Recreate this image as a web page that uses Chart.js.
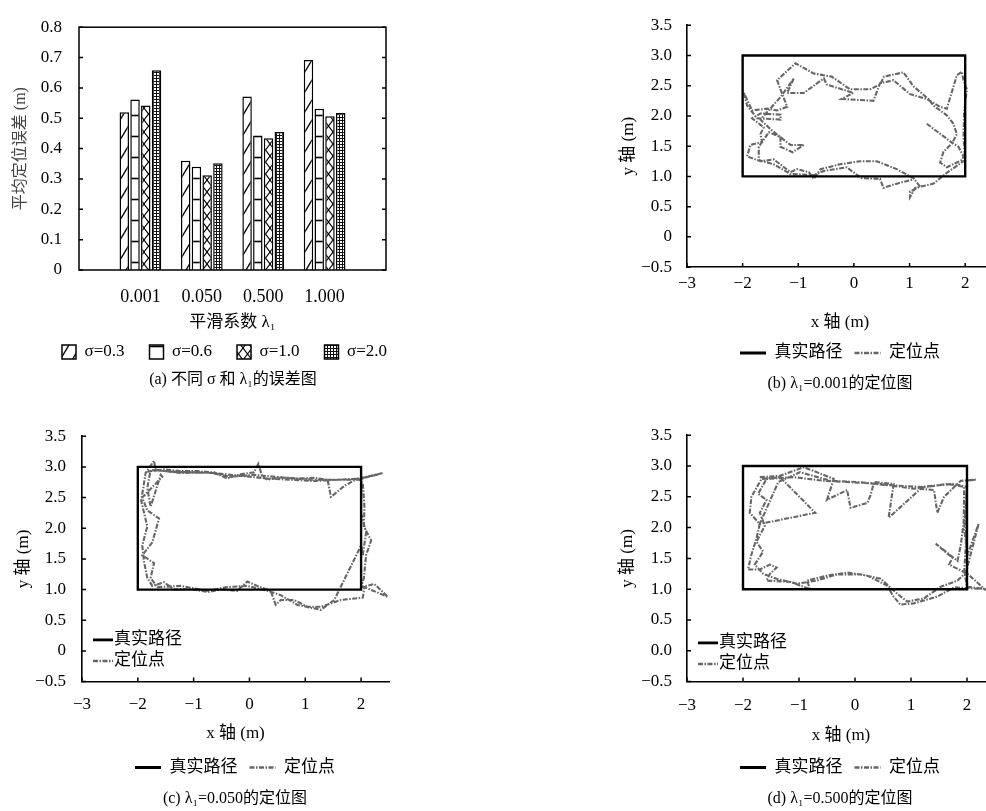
<!DOCTYPE html>
<html>
<head>
<meta charset="utf-8">
<script src="https://cdn.jsdelivr.net/npm/chart.js@4.4.0/dist/chart.umd.min.js"></script>
<style>
  html, body { margin: 0; padding: 0; background: #fff; width: 986px; height: 811px; overflow: hidden; }
  canvas { position: absolute; }
</style>
</head>
<body>
<canvas id="chartA" width="466" height="400" style="left:0;top:0"></canvas>
<canvas id="chartB" width="460" height="400" style="left:610px;top:0"></canvas>
<canvas id="chartC" width="470" height="401" style="left:0;top:410px"></canvas>
<canvas id="chartD" width="460" height="401" style="left:610px;top:410px"></canvas>
<script>
// (a) 误差柱状图
const categories = ['0.001', '0.050', '0.500', '1.000'];
const sigma03 = [0.520, 0.360, 0.572, 0.692];
const sigma06 = [0.562, 0.340, 0.443, 0.531];
const sigma10 = [0.542, 0.312, 0.434, 0.507];
const sigma20 = [0.658, 0.352, 0.455, 0.517];
const yTickValsA = [0, 0.1, 0.2, 0.3, 0.4, 0.5, 0.6, 0.7, 0.8];
const yTickLabelsA = ['0', '0.1', '0.2', '0.3', '0.4', '0.5', '0.6', '0.7', '0.8'];

// (b)(c)(d) 定位图
const trueX = [-2, 2, 2, -2, -2];
const trueY = [1, 1, 3, 3, 1];
const xTickVals = [-3, -2, -1, 0, 1, 2];
const xTickLabels = ['−3', '−2', '−1', '0', '1', '2'];
const yTickVals = [-0.5, 0, 0.5, 1, 1.5, 2, 2.5, 3, 3.5];
const yTickLabels = ['−0.5', '0', '0.5', '1.0', '1.5', '2.0', '2.5', '3.0', '3.5'];
const yTickLabelsD = ['−0.5', '0.0', '0.5', '1.0', '1.5', '2.0', '2.5', '3.0', '3.5'];

// λ1 = 0.001
const bX = [1.31,1.73,1.88,1.97,1.94,1.67,1.55,1.61,1.76,1.85,1.79,1.67,1.55,1.43,1.34,1.07,0.89,0.54,0.47,0.29,
  -0.07,-0.40,-0.72,-1.05,-1.38,-1.32,-1.20,-1.38,-1.56,-1.83,-1.98,-1.92,-1.74,-1.32,-1.32,-1.68,-1.83,-1.62,-1.68,-1.65,
  -1.86,-1.92,-1.68,-1.44,-1.14,-1.02,-0.81,-0.72,-0.60,-0.25,0.11,0.41,0.77,1.07,1.19,1.01,1.01,1.10,1.43,1.67,
  2.00,1.97,1.98,2.03,1.97,1.94,1.85,1.67,1.55,1.31,1.01,0.71,0.47,0.35,-0.22,-0.01,-0.49,-0.54,-0.90,-1.20,
  -1.08,-1.32,-1.68,-1.50,-1.14,-0.90,-1.10,-1.32,-1.32,-1.53,-1.71,-1.71,-1.44,-1.14,-0.72,-0.54,-0.13,0.14,0.47,0.53,
  0.77,1.07];
const bY = [1.87,1.58,1.49,1.33,1.27,1.15,1.23,1.41,1.54,1.70,1.87,2.01,2.09,2.17,2.28,2.49,2.72,2.65,2.52,2.44,
  2.44,2.65,2.70,2.87,2.59,2.44,2.15,2.09,2.12,2.09,2.39,2.17,1.96,1.94,2.02,2.04,1.96,1.81,1.70,1.57,
  1.52,1.33,1.25,1.28,1.07,1.12,1.07,0.96,1.12,1.20,1.25,1.25,1.12,0.97,0.83,0.75,0.66,0.81,0.88,1.06,
  1.27,1.65,2.04,2.44,2.59,2.73,2.67,2.12,2.15,2.28,2.36,2.59,2.54,2.25,2.28,2.38,2.52,2.62,2.38,2.38,
  2.62,2.31,1.94,1.78,1.52,1.52,1.40,1.49,1.65,1.73,1.49,1.27,1.20,1.04,1.02,1.09,1.15,0.97,0.96,0.81,
  0.88,0.95];

// λ1 = 0.050
const cX = [-1.83,-1.53,-1.23,-0.93,-0.63,-0.40,-0.16,0.08,0.16,0.23,0.32,0.56,0.86,1.16,1.40,1.46,1.70,1.94,2.03,2.06,
  2.05,2.18,2.09,2.05,2.00,2.24,2.48,2.06,2.03,1.64,1.28,1.04,0.80,0.56,0.47,0.38,0.14,-0.04,-0.22,-0.51,
  -0.75,-1.05,-1.35,-1.53,-1.74,-1.83,-1.89,-1.92,-1.83,-1.94,-1.86,-1.71,-1.68,-1.23,-0.75,-0.34,0.08,0.68,1.16,1.94,
  2.39,2.00,2.00,2.09,2.03,2.00,1.52,1.28,0.86,0.56,0.32,-0.04,-0.40,-0.75,-1.23,-1.65,-1.77,-1.71,-1.92,-1.74,
  -1.62,-1.83,-1.92,-1.56,-1.59,-1.77,-1.83,-1.77,-1.35,-0.63,0.32,1.16,1.97,2.33];
const cY = [2.92,2.96,2.93,2.93,2.91,2.81,2.88,2.91,3.05,2.84,2.79,2.83,2.81,2.82,2.79,2.51,2.69,2.81,2.74,2.35,
  2.03,1.80,1.56,1.19,1.04,1.09,0.88,1.04,0.87,0.83,0.72,0.72,0.83,0.83,0.75,0.98,1.06,1.13,0.98,1.00,
  0.96,1.01,1.00,1.12,1.06,1.19,1.46,1.72,2.03,2.45,2.90,3.10,2.95,2.90,2.91,2.84,2.87,2.82,2.79,2.79,
  2.90,2.82,2.24,1.93,1.56,1.72,0.83,0.67,0.75,0.91,0.98,1.06,1.04,0.98,1.06,1.04,1.19,1.43,1.56,1.77,
  2.16,2.29,2.50,2.84,2.87,2.35,2.66,2.95,2.92,2.90,2.81,2.77,2.81,2.88];

// λ1 = 0.500
const dX = [-1.70,-1.34,-0.92,-0.74,-0.38,-0.50,-0.14,-0.08,0.22,0.28,0.34,0.69,0.60,0.99,1.17,1.41,1.47,1.59,1.89,2.16,
  2.00,1.98,1.98,1.95,2.00,2.36,1.77,1.47,1.05,0.81,0.69,0.57,0.22,-0.14,-0.50,-0.86,-0.80,-1.16,-1.58,-1.52,
  -1.40,-1.52,-1.70,-1.91,-1.85,-1.76,-1.70,-1.88,-1.85,-1.67,-1.34,-0.71,-1.70,-1.55,-1.37,-0.98,-0.44,0.04,0.57,1.17,
  1.77,2.00,1.95,2.01,2.21,1.98,1.83,1.53,1.23,0.93,0.75,0.46,0.10,-0.32,-0.68,-1.04,-1.40,-1.64,-1.79,-1.64,
  -1.76,-1.61,-1.70,-1.58,-1.73,-1.58,-1.10,-0.56,-0.14,0.46,1.05,1.65,1.95,1.94,1.89,1.83,1.44,1.74,1.68,2.01,
  2.34];
const dY = [2.82,2.84,2.98,2.92,2.79,2.45,2.61,2.32,2.40,2.53,2.74,2.71,2.16,2.48,2.63,2.61,2.24,2.50,2.76,2.78,
  2.76,2.24,1.72,1.30,1.04,1.00,1.03,0.88,0.77,0.75,0.88,1.06,1.22,1.27,1.22,1.14,1.00,1.12,1.14,1.25,
  1.35,1.40,1.32,1.32,1.56,1.82,2.06,2.24,2.50,2.79,2.82,2.24,2.06,2.37,2.74,2.90,2.76,2.74,2.69,2.66,
  2.71,2.66,1.98,1.56,2.07,1.27,1.14,1.04,0.85,0.80,0.93,1.17,1.24,1.24,1.14,1.09,1.17,1.25,1.40,1.61,
  1.77,2.03,2.24,2.45,2.55,2.79,2.82,2.76,2.74,2.71,2.63,2.71,2.66,2.08,1.72,1.46,1.74,1.51,1.40,1.25,
  0.98];

Chart.defaults.font.family = "'Liberation Serif', 'Noto Sans CJK SC', serif";
Chart.defaults.color = '#000';

// 填充图案
function pattern(w, h, draw) {
  const c = document.createElement('canvas');
  c.width = w; c.height = h;
  const g = c.getContext('2d');
  g.fillStyle = '#fff';
  g.fillRect(0, 0, w, h);
  g.strokeStyle = '#000';
  draw(g, w, h);
  return g.createPattern(c, 'repeat');
}
const fillDiag = pattern(12, 20, (g, w, h) => {
  g.lineWidth = 1.4;
  g.beginPath();
  [-w, 0, w].forEach(o => { g.moveTo(o, h); g.lineTo(o + w, 0); });
  g.stroke();
});
const fillHoriz = pattern(4, 21, (g, w) => {
  g.lineWidth = 1.6;
  g.beginPath(); g.moveTo(0, 10.5); g.lineTo(w, 10.5); g.stroke();
});
const fillCross = pattern(9, 12, (g, w, h) => {
  g.lineWidth = 1.1;
  g.beginPath();
  g.moveTo(0, 0); g.lineTo(w, h);
  g.moveTo(0, h); g.lineTo(w, 0);
  g.stroke();
});
const fillGrid = pattern(3, 3, (g, w, h) => {
  g.lineWidth = 1;
  g.strokeStyle = '#111';
  g.beginPath();
  g.moveTo(0.5, 0); g.lineTo(0.5, h);
  g.moveTo(0, 0.5); g.lineTo(w, 0.5);
  g.stroke();
});

// 边框和朝内的刻度
const frameAxes = {
  id: 'frameAxes',
  afterDatasetsDraw(chart, args, opts) {
    const { ctx, chartArea: a, scales } = chart;
    ctx.save();
    ctx.strokeStyle = '#000';
    ctx.lineWidth = 1.5;
    if (opts.box) ctx.strokeRect(a.left, a.top, a.right - a.left, a.bottom - a.top);
    ctx.beginPath();
    scales.y.ticks.forEach(t => {
      const py = scales.y.getPixelForValue(t.value);
      ctx.moveTo(a.left, py); ctx.lineTo(a.left + 4, py);
      if (opts.box) { ctx.moveTo(a.right, py); ctx.lineTo(a.right - 4, py); }
    });
    if (opts.xTicks) {
      scales.x.ticks.forEach(t => {
        const px = scales.x.getPixelForValue(t.value);
        ctx.moveTo(px, a.bottom); ctx.lineTo(px, a.bottom - 4);
      });
    }
    ctx.stroke();
    ctx.restore();
  }
};

// 图内左下角的图例
const innerLegend = {
  id: 'innerLegend',
  afterDraw(chart, args, opts) {
    if (!opts.show) return;
    const { ctx, chartArea: a } = chart;
    ctx.save();
    ctx.font = "17px 'Liberation Serif', 'Noto Sans CJK SC'";
    ctx.textBaseline = 'middle';
    chart.data.datasets.forEach((ds, i) => {
      const x = a.left + opts.left;
      const y = a.bottom - opts.bottom + i * 21;
      ctx.strokeStyle = ds.borderColor;
      ctx.lineWidth = ds.borderWidth + 0.4;
      ctx.setLineDash(ds.borderDash || []);
      ctx.beginPath(); ctx.moveTo(x, y); ctx.lineTo(x + 20, y); ctx.stroke();
      ctx.setLineDash([]);
      ctx.fillStyle = '#000';
      ctx.fillText(ds.label, x + 21, y);
    });
    ctx.restore();
  }
};

const pad = arr => [null, ...arr, null];
const pts = (xs, ys) => xs.map((x, i) => ({ x, y: ys[i] }));

new Chart(document.getElementById('chartA'), {
  type: 'bar',
  data: {
    labels: ['', ...categories, ''],
    datasets: [
      { label: 'σ=0.3', data: pad(sigma03), backgroundColor: fillDiag },
      { label: 'σ=0.6', data: pad(sigma06), backgroundColor: fillHoriz },
      { label: 'σ=1.0', data: pad(sigma10), backgroundColor: fillCross },
      { label: 'σ=2.0', data: pad(sigma20), backgroundColor: fillGrid }
    ]
  },
  options: {
    responsive: false,
    animation: false,
    datasets: { bar: { categoryPercentage: 0.70, barPercentage: 0.88, borderColor: '#000', borderWidth: 1.5 } },
    layout: { padding: { top: 15.7, bottom: 10.3, left: 0, right: 0 } },
    scales: {
      x: {
        offset: false,
        grid: { display: false, drawTicks: false },
        border: { display: false },
        ticks: { padding: 16, font: { size: 18 }, maxRotation: 0, autoSkip: false },
        title: { display: true, text: '平滑系数 λ₁', font: { size: 17 }, padding: { top: 0, bottom: 2.3 } },
        afterFit: s => { s.height = 65.5; }
      },
      y: {
        min: 0, max: 0.8,
        grid: { display: false, drawTicks: false },
        border: { display: false },
        afterBuildTicks: s => { s.ticks = yTickValsA.map(v => ({ value: v })); },
        ticks: { padding: 17, font: { size: 17 }, callback: (v, i) => yTickLabelsA[i] },
        title: { display: true, text: '平均定位误差 (m)', color: '#444', font: { size: 16 }, padding: { top: 11, bottom: 0 } },
        afterFit: s => { s.width = 79; }
      },
      yR: {
        position: 'right',
        grid: { display: false, drawTicks: false },
        border: { display: false },
        ticks: { display: false },
        afterFit: s => { s.width = 80; }
      }
    },
    plugins: {
      legend: {
        position: 'bottom',
        labels: {
          boxWidth: 14, boxHeight: 14, padding: 8, font: { size: 17 }, color: '#000',
          generateLabels: chart => Chart.defaults.plugins.legend.labels.generateLabels(chart)
            .map(l => ({ ...l, text: l.text + '    ' }))
        }
      },
      title: {
        display: true, position: 'bottom', text: '(a) 不同 σ 和 λ₁的误差图',
        color: '#000', font: { size: 16, weight: 'normal' }, padding: { top: 0, bottom: 0 }
      },
      tooltip: { enabled: false },
      frameAxes: { box: true, xTicks: false }
    }
  },
  plugins: [frameAxes]
});

function pathChart(id, xs, ys, yLabels, caption, L) {
  return new Chart(document.getElementById(id), {
    type: 'scatter',
    data: {
      datasets: [
        { label: '真实路径', data: pts(trueX, trueY), showLine: true, borderColor: '#000',
          borderWidth: 2.4, borderCapStyle: 'square', pointRadius: 0 },
        { label: '定位点', data: pts(xs, ys), showLine: true, borderColor: '#666',
          borderWidth: 2.1, borderDash: [5, 1.5, 1.5, 1.5], pointRadius: 0 }
      ]
    },
    options: {
      responsive: false,
      animation: false,
      layout: { padding: { top: L.top, bottom: L.bottom, left: 0, right: 0 } },
      scales: {
        x: {
          type: 'linear', min: -3, max: 2.5,
          grid: { display: false, drawTicks: false },
          border: { color: '#000', width: 1.6 },
          afterBuildTicks: s => { s.ticks = xTickVals.map(v => ({ value: v })); },
          ticks: { padding: L.xPad, font: { size: 17 }, maxRotation: 0, callback: (v, i) => xTickLabels[i] },
          title: { display: true, text: 'x 轴 (m)', font: { size: 17 }, padding: { top: 0, bottom: L.xTitle } },
          afterFit: s => { s.height = 65.4; }
        },
        y: {
          type: 'linear', min: -0.5, max: 3.5,
          grid: { display: false, drawTicks: false },
          border: { color: '#000', width: 1.6 },
          afterBuildTicks: s => { s.ticks = yTickVals.map(v => ({ value: v })); },
          ticks: { padding: L.yPad, font: { size: 17 }, callback: (v, i) => yLabels[i] },
          title: { display: true, text: 'y 轴 (m)', font: { size: 17 }, padding: { top: L.yTitle, bottom: 0 } },
          afterFit: s => { s.width = L.yW; }
        },
        yR: {
          type: 'linear', position: 'right',
          grid: { display: false, drawTicks: false },
          border: { display: false },
          ticks: { display: false },
          afterFit: s => { s.width = L.rW; }
        }
      },
      plugins: {
        legend: {
          position: 'bottom',
          labels: {
            usePointStyle: true, pointStyleWidth: 26, padding: 12, font: { size: 17 }, color: '#000',
            generateLabels: chart => chart.data.datasets.map((ds, i) => ({
              text: ds.label, datasetIndex: i, hidden: false, pointStyle: 'line',
              strokeStyle: ds.borderColor, fillStyle: ds.borderColor,
              lineWidth: ds.borderWidth + 0.6, lineDash: ds.borderDash || []
            }))
          }
        },
        title: {
          display: true, position: 'bottom', text: caption,
          color: '#000', font: { size: 16, weight: 'normal' }, padding: { top: L.capTop, bottom: 0 }
        },
        tooltip: { enabled: false },
        frameAxes: { box: false, xTicks: true },
        innerLegend: { show: L.inner, left: 11, bottom: L.innerBottom }
      }
    },
    plugins: [frameAxes, innerLegend]
  });
}

pathChart('chartB', bX, bY, yTickLabels, '(b) λ₁=0.001的定位图',
  { top: 13.3, bottom: 6.3, xPad: 6, xTitle: 0, yPad: 15, yTitle: 8, yW: 77, rW: 77, capTop: 3, inner: false });
pathChart('chartC', cX, cY, yTickLabels, '(c) λ₁=0.050的定位图',
  { top: 16.7, bottom: 2.9, xPad: 13, xTitle: 2.8, yPad: 16, yTitle: 13, yW: 82, rW: 81, capTop: 2.9, inner: true, innerBottom: 41.7 });
pathChart('chartD', dX, dY, yTickLabelsD, '(d) λ₁=0.500的定位图',
  { top: 15.7, bottom: 2.9, xPad: 14, xTitle: 1.3, yPad: 15, yTitle: 7, yW: 77, rW: 75, capTop: 2.9, inner: true, innerBottom: 38.7 });
</script>
</body>
</html>
